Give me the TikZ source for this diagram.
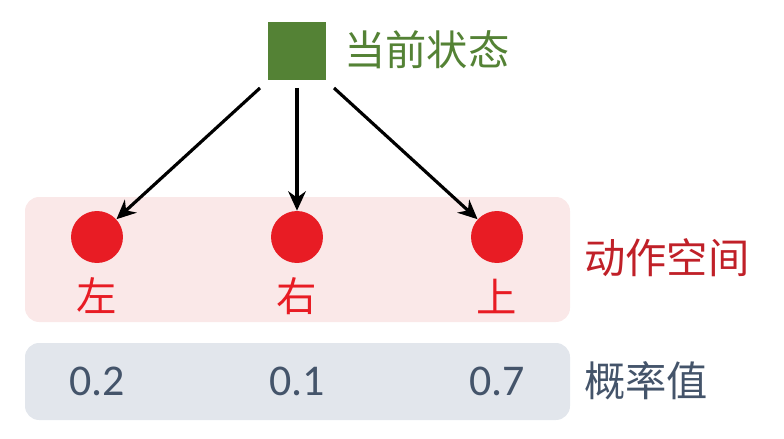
\documentclass[tikz,border=0pt]{standalone}
\usepackage{fontspec}
\newfontfamily\cjk{Noto Sans CJK SC}
\newfontfamily\numfont{Carlito}
\usetikzlibrary{arrows.meta,positioning}
\definecolor{stategreen}{RGB}{84,130,53}
\definecolor{actred}{RGB}{232,28,36}
\definecolor{spacered}{RGB}{192,32,40}
\definecolor{pinkbg}{RGB}{250,232,232}
\definecolor{graybg}{RGB}{226,230,236}
\definecolor{slate}{RGB}{68,84,106}
\tikzset{
  action/.style={circle,fill=actred,minimum size=1.04cm,inner sep=0pt},
  actlabel/.style={text=actred,font=\cjk\fontsize{23}{26}\selectfont},
  prob/.style={text=slate,font=\numfont\fontsize{25}{28}\selectfont},
  sidelabel/.style={anchor=west,font=\cjk\fontsize{23.5}{26}\selectfont},
  arrow/.style={line width=1.8pt,-{Stealth[length=11pt,width=10pt]}}
}
\begin{document}
\begin{tikzpicture}[x=0.02cm,y=-0.02cm]
  \useasboundingbox (0,0) rectangle (784,439);

  % Backgrounds
  \fill[pinkbg,rounded corners=8pt] (25,197) rectangle (570,322);
  \fill[graybg,rounded corners=8pt] (25,343) rectangle (570,420);

  % State
  \node[fill=stategreen,minimum size=1.18cm,inner sep=0pt] (state) at (297,51) {};
  \node[sidelabel,text=stategreen] (statelbl) at (338,50) {当前状态};

  % Actions
  \node[action] (left) at (97,237) {};
  \node[action] (right) at (297,237) {};
  \node[action] (up) at (497,237) {};
  \node[actlabel] (leftlbl) at (97,296) {左};
  \node[actlabel] (rightlbl) at (297,296) {右};
  \node[actlabel] (uplbl) at (497,296) {上};
  \node[sidelabel,text=spacered] (space) at (578,258) {动作空间};

  % Arrows
  \coordinate (s1) at (260,88);
  \coordinate (s2) at (297,88);
  \coordinate (s3) at (334,88);
  \draw[arrow] (s1) -- (left);
  \draw[arrow] (s2) -- (right);
  \draw[arrow] (s3) -- (up);

  % Probabilities
  \node[prob] (p1) at (97,381) {0.2};
  \node[prob] (p2) at (297,381) {0.1};
  \node[prob] (p3) at (497,381) {0.7};
  \node[sidelabel,text=slate] (problbl) at (578,381) {概率值};
\end{tikzpicture}
\end{document}
